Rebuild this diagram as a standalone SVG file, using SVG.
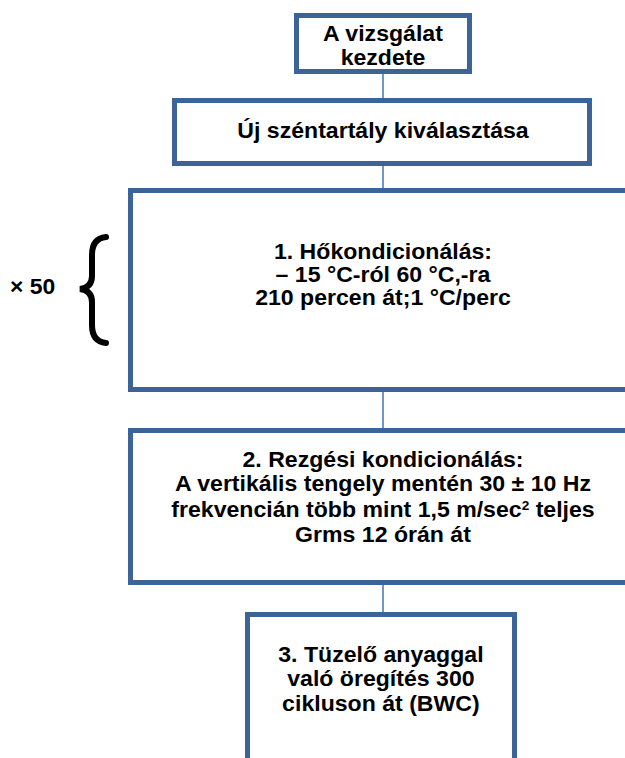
<svg xmlns="http://www.w3.org/2000/svg" width="625" height="758" viewBox="0 0 625 758">
<style>
.box{fill:#ffffff;stroke:#3d6499;stroke-width:5}
.t{font-family:"Liberation Sans",Arial,sans-serif;font-weight:bold;font-size:22px;fill:#000;text-anchor:middle}
.c{stroke:#6f97cc;stroke-width:2;fill:none}
</style>
<rect width="625" height="758" fill="#ffffff"/>
<g id="connectors">
<line class="c" x1="383" y1="74" x2="383" y2="99"/>
<line class="c" x1="383" y1="166" x2="383" y2="189"/>
<line class="c" x1="383" y1="392" x2="383" y2="429"/>
<line class="c" x1="383" y1="585" x2="383" y2="613"/>
</g>
<g id="start">
<rect class="box" x="296.5" y="15.5" width="173" height="56"/>
<g transform="matrix(1.05,0,0,1,-19.15,0)">
<text class="t" x="383" y="41">A vizsgálat</text>
<text class="t" x="383" y="65">kezdete</text>
</g>
</g>
<g id="select">
<rect class="box" x="174.5" y="100.5" width="415" height="63"/>
<g transform="matrix(1.05,0,0,1,-19.15,0)">
<text class="t" x="383" y="138">Új széntartály kiválasztása</text>
</g>
</g>
<g id="thermal">
<rect class="box" x="130.5" y="190.5" width="510" height="199"/>
<g transform="matrix(1.05,0,0,1,-19.15,0)">
<text class="t" x="383" y="259">1. Hőkondicionálás:</text>
<text class="t" x="383" y="282">– 15 °C-ról 60 °C,-ra</text>
<text class="t" x="383" y="305">210 percen át;1 °C/perc</text>
</g>
</g>
<g id="repeat">
<text class="t" x="10" y="294" style="text-anchor:start" transform="matrix(1.04,0,0,1,-0.4,0)">× 50</text>
<path d="M106,237 C96,238 92,245 92,255 L92,276 C92,284 88,288 80,289 C88,290 92,294 92,302 L92,325 C92,335 96,342 106,343" fill="none" stroke="#000" stroke-width="6" stroke-linecap="round"/>
</g>
<g id="vibration">
<rect class="box" x="130.5" y="430.5" width="510" height="152"/>
<g transform="matrix(1.05,0,0,1,-19.15,0)">
<text class="t" x="383" y="467">2. Rezgési kondicionálás:</text>
<text class="t" x="383" y="491">A vertikális tengely mentén 30 ± 10 Hz</text>
<text class="t" x="383" y="517">frekvencián több mint 1,5 m/sec<tspan font-size="13" dy="-7">2</tspan><tspan dy="7"> teljes</tspan></text>
<text class="t" x="383" y="542">Grms 12 órán át</text>
</g>
</g>
<g id="aging">
<rect class="box" x="247.5" y="614.5" width="267" height="160"/>
<g transform="matrix(1.05,0,0,1,-19.15,0)">
<text class="t" x="381" y="662">3. Tüzelő anyaggal</text>
<text class="t" x="381" y="686">való öregítés 300</text>
<text class="t" x="381" y="711">cikluson át (BWC)</text>
</g>
</g>
</svg>
